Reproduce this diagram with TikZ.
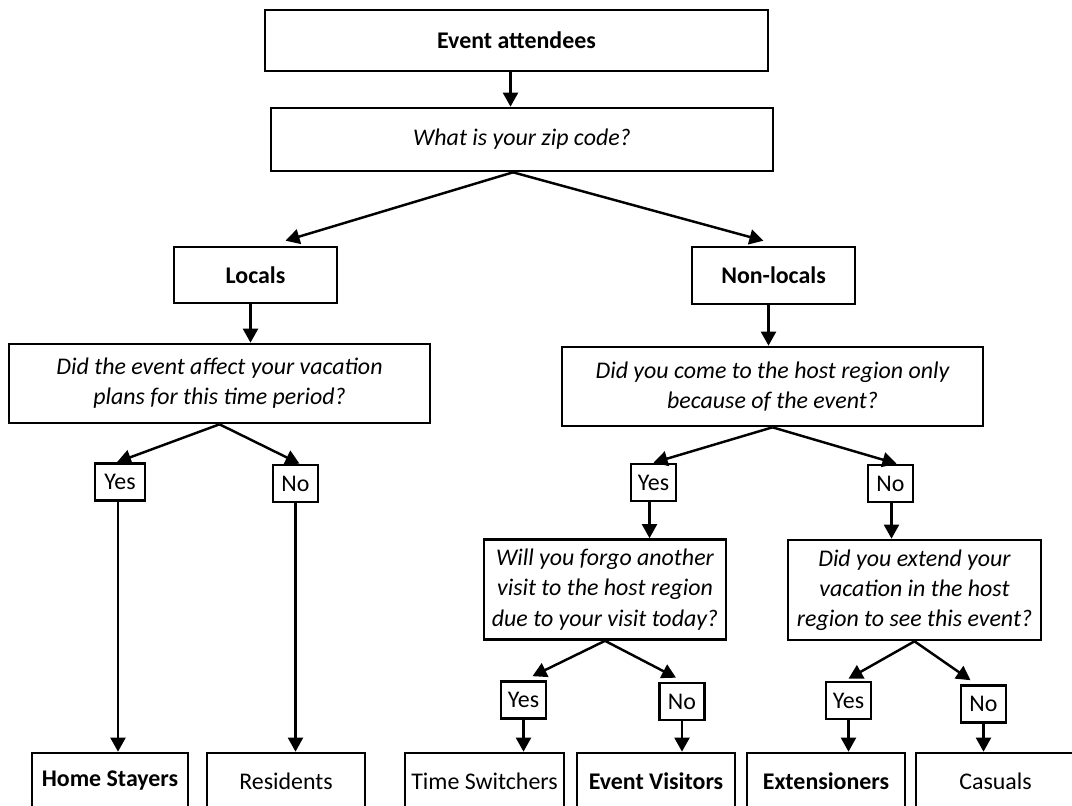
\documentclass[tikz,border=0pt]{standalone}
\usepackage{fontspec}
\setmainfont{Carlito}
\usepackage{tikz}
\usetikzlibrary{positioning,calc,arrows.meta}
\tikzstyle{arrow} = [line width=1.4pt,-{Triangle[length=8pt,width=8.5pt]}]

\begin{document}
\begin{tikzpicture}[x=0.02cm, y=-0.02cm]
	\tikzstyle{box}=[draw=black,line width=1.5pt,rectangle,inner sep=0pt,align=center,font=\fontsize{13.6}{17.2}\selectfont]
	\tikzstyle{ans}=[box,minimum width=0.9cm,minimum height=0.74cm]
	\tikzstyle{group}=[box,minimum width=3.16cm,minimum height=1.12cm]
	\useasboundingbox (0,0) rectangle (1072,805);
	\clip (0,0) rectangle (1072,805);
	\node[box,minimum width=10.06cm,minimum height=1.22cm]	(event)	at (516.5,40.5)	{\bfseries Event attendees};
	\node[box,minimum width=10.04cm,minimum height=1.26cm]	(zip)	at (522,139.5)	{\itshape What is your zip code?};
	\node[box,minimum width=3.26cm,minimum height=1.12cm]	(locals)	at (255.5,275)	{\bfseries Locals};
	\node[box,minimum width=3.26cm,minimum height=1.14cm]	(nonlocals)	at (773.5,275.5)	{\bfseries Non-locals};
	\node[box,minimum width=8.42cm,minimum height=1.58cm]	(vacation)	at (219.5,383.5)	{\itshape Did the event affect your vacation\\\itshape plans for this time period?};
	\node[box,minimum width=8.42cm,minimum height=1.58cm]	(onlyevent)	at (772.5,386.5)	{\itshape Did you come to the host region only\\\itshape because of the event?};
	\node[ans,minimum width=1cm]	(yesA)	at (120,482)	{Yes};
	\node[ans]	(noA)	at (295.5,483.5)	{No};
	\node[ans]	(yesB)	at (653.5,482.5)	{Yes};
	\node[ans]	(noB)	at (890.5,483.5)	{No};
	\node[box,minimum width=4.84cm,minimum height=2.0cm]	(forgo)	at (605,589.5)	{\itshape Will you forgo another\\\itshape visit to the host region\\\itshape due to your visit today?};
	\node[box,minimum width=5.06cm,minimum height=2.0cm]	(extend)	at (914.5,590)	{\itshape Did you extend your\\\itshape vacation in the host\\\itshape region to see this event?};
	\node[ans]	(yesC)	at (523.5,700)	{Yes};
	\node[ans]	(noC)	at (682,701.5)	{No};
	\node[ans]	(yesD)	at (848.5,700.5)	{Yes};
	\node[ans]	(noD)	at (983.5,704)	{No};
	\node[group,minimum width=3.12cm]	(homestayers)	at (110,781)	{\bfseries Home Stayers};
	\node[group]	(residents)	at (286,781)	{Residents};
	\node[group,minimum width=3.18cm]	(switchers)	at (484.5,781)	{Time Switchers};
	\node[group]	(visitors)	at (656,781)	{\bfseries Event Visitors};
	\node[group]	(extensioners)	at (826,781)	{\bfseries Extensioners};
	\node[group,minimum width=3.18cm]	(casuals)	at (995.5,781)	{Casuals};
	\draw[arrow] ($(event.south)+(-6,0)$) -- ($(event.south |- zip.north)+(-6,0)$);
	\draw[arrow] ($(zip.south)+(-9,0)$) -- ($(locals.north)+(30,-5)$);
	\draw[arrow] ($(zip.south)+(-9,0)$) -- ($(nonlocals.north)+(-10,-5)$);
	\draw[arrow] ($(locals.south)+(-5,0)$) -- ($(locals.south |- vacation.north)+(-5,0)$);
	\draw[arrow] ($(nonlocals.south)+(-5,0)$) -- ($(nonlocals.south |- onlyevent.north)+(-5,0)$);
	\draw[arrow] (vacation.south) -- ($(yesA.north)+(-3,0)$);
	\draw[arrow] (vacation.south) -- ($(noA.north)+(4,0)$);
	\draw[arrow] (onlyevent.south) -- (yesB.north);
	\draw[arrow] (onlyevent.south) -- ($(noB.north)+(6,0)$);
	\draw[arrow] ($(yesA.south)+(-2,0)$) -- ($(yesA.south |- homestayers.north)+(-2,0)$);
	\draw[arrow] (noA.south) -- (noA.south |- residents.north);
	\draw[arrow] ($(yesB.south)+(-4,0)$) -- ($(yesB.south |- forgo.north)+(-4,0)$);
	\draw[arrow] ($(noB.south)+(1,0)$) -- ($(noB.south |- extend.north)+(1,0)$);
	\draw[arrow] (forgo.south) -- ($(yesC.north)+(9,-4)$);
	\draw[arrow] (forgo.south) -- ($(noC.north)+(-6,-4)$);
	\draw[arrow] (extend.south) -- ($(yesD.north)+(0,-2)$);
	\draw[arrow] (extend.south) -- ($(noD.north)+(-13,-4)$);
	\draw[arrow] (yesC.south) -- (yesC.south |- switchers.north);
	\draw[arrow] (noC.south) -- (noC.south |- visitors.north);
	\draw[arrow] (yesD.south) -- (yesD.south |- extensioners.north);
	\draw[arrow] (noD.south) -- (noD.south |- casuals.north);
\end{tikzpicture}
\end{document}
